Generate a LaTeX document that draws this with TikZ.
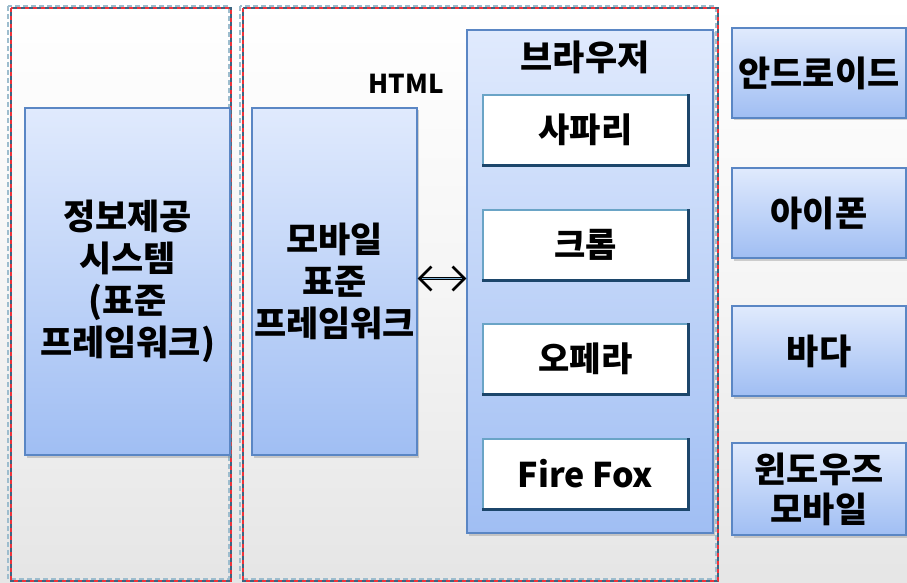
\documentclass[tikz,border=0pt]{standalone}
\usepackage{fontspec}
\setmainfont{Noto Sans CJK KR}
\usetikzlibrary{shadows,arrows.meta}
\definecolor{boxtop}{HTML}{E0EAFD}
\definecolor{boxbot}{HTML}{A0BEF3}
\definecolor{boxline}{HTML}{5A86C4}
\definecolor{framelight}{HTML}{9DBDCE}
\definecolor{framedark}{HTML}{3D6480}
\definecolor{framered}{HTML}{F0333A}
\definecolor{wlight}{HTML}{6AA4C6}
\definecolor{wdark}{HTML}{1C466B}
\definecolor{arrowblue}{HTML}{7FB2D6}
\tikzset{
  bluebox/.style={draw=boxline, line width=1.3pt, top color=boxtop, bottom color=boxbot,
    drop shadow={opacity=0.35, shadow xshift=2pt, shadow yshift=-2.5pt},
    align=center, inner sep=0pt, font=\bfseries\fontsize{35}{42}\selectfont},
  whitebox/.style={draw=wlight, line width=1.5pt, fill=white, inner sep=0pt,
    minimum width=205, minimum height=70, font=\bfseries\fontsize{34}{40}\selectfont},
  outerdash/.style={draw=framelight, line width=2pt, dash pattern=on 5pt off 3pt},
  innerdash/.style={draw=framedark, line width=1.6pt, dash pattern=on 4pt off 4pt, dash phase=4pt},
  reddash/.style={draw=framered, line width=1.6pt, dash pattern=on 4pt off 4pt}
}

\begin{document}
\begin{tikzpicture}[x=1pt,y=-1pt]

\shade[top color=white, bottom color=black!10, middle color=black!4] (0,0) rectangle (907,583);
\useasboundingbox (0,0) rectangle (907,583);

\draw[outerdash] (8,6) rectangle (229,579);
\draw[innerdash] (11,8) rectangle (231,581);
\draw[reddash] (11,8) rectangle (231,581);
\draw[outerdash] (240,6) rectangle (716,579);
\draw[innerdash] (243,8) rectangle (718,581);
\draw[reddash] (243,8) rectangle (718,581);

\node[bluebox, minimum width=205, minimum height=347] (v1) at (127.5,281.5) {정보제공\\시스템\\(표준\\프레임워크)};
\node[bluebox, minimum width=165, minimum height=347] (v2) at (334.5,281.5) {모바일\\표준\\프레임워크};
\node[bluebox, minimum width=246, minimum height=503] (v3) at (590,281.5) {};
\node[font=\bfseries\fontsize{35}{40}\selectfont] (v4) at (585,57) {브라우저};
\node[font=\bfseries\fontsize{26}{30}\selectfont] (v5) at (406,84) {HTML};

\node[whitebox] (v6) at (585.5,130) {사파리};
\node[whitebox] (v7) at (585.5,245) {크롬};
\node[whitebox] (v8) at (585.5,359) {오페라};
\node[whitebox] (v9) at (585.5,474) {Fire Fox};
\foreach \b in {v6,v7,v8,v9}
  \draw[wdark, line width=3pt] (\b.north east) -- (\b.south east) -- (\b.south west);

\node[bluebox, minimum width=174, minimum height=90] (v10) at (819,73) {안드로이드};
\node[bluebox, minimum width=174, minimum height=90] (v11) at (819,213) {아이폰};
\node[bluebox, minimum width=174, minimum height=90] (v12) at (819,351) {바다};
\node[bluebox, minimum width=174, minimum height=92, font=\bfseries\fontsize{35}{40}\selectfont] (v13) at (819,489) {윈도우즈\\모바일};

\draw[{Straight Barb[length=12pt,width=24pt]}-{Straight Barb[length=12pt,width=24pt]}, line width=2.6pt, black] ([yshift=3pt]v2.east) -- ([yshift=3pt]v3.west);
\draw[arrowblue, line width=1.2pt] ([xshift=4pt,yshift=3pt]v2.east) -- ([xshift=-4pt,yshift=3pt]v3.west);

\end{tikzpicture}
\end{document}
